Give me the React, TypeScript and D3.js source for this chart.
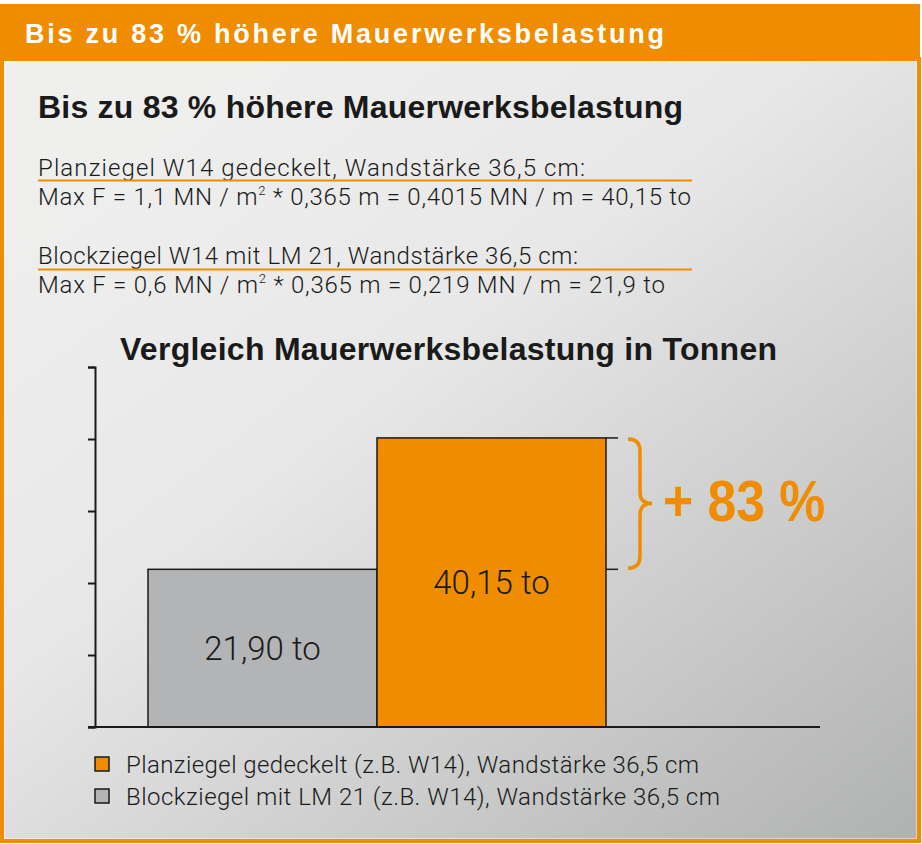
import * as d3 from 'd3';
import React, { useEffect, useRef } from 'react';

// bar data (left to right)
const categories = ['Blockziegel mit LM 21 (z.B. W14), Wandstärke 36,5 cm', 'Planziegel gedeckelt (z.B. W14), Wandstärke 36,5 cm'];
const values = [21.9, 40.15];
const valueLabels = ['21,90 to', '40,15 to'];
const barColors = ['#b3b4b6', '#f08c00'];
const legendOrder = [1, 0];
const yTicks = [0, 10, 20, 30, 40, 50];
const increaseLabel = '+ 83 %';

const headerTitle = 'Bis zu 83 % höhere Mauerwerksbelastung';
const mainTitle = 'Bis zu 83 % höhere Mauerwerksbelastung';
const chartTitle = 'Vergleich Mauerwerksbelastung in Tonnen';
const formulaHeads = ['Planziegel W14 gedeckelt, Wandstärke 36,5 cm:', 'Blockziegel W14 mit LM 21, Wandstärke 36,5 cm:'];
const formulaPre = ['Max F = 1,1 MN / m', 'Max F = 0,6 MN / m'];
const formulaPost = [' * 0,365 m = 0,4015 MN / m = 40,15 to', ' * 0,365 m = 0,219 MN / m = 21,9 to'];

const ORANGE = '#f08c00';
const INK = '#1a1a1a';
const FONT = '"Liberation Sans", Arial, sans-serif';
const LIGHT = 'Roboto, "Liberation Sans", sans-serif';

export default function App(): React.JSX.Element {
	const axisRef = useRef<SVGGElement | null>(null);

	const xScale = d3.scaleBand<number>()
		.domain(values.map((_, i) => i))
		.range([148, 606])
		.padding(0);

	const yScale = d3.scaleLinear()
		.domain([0, 50])
		.range([727, 367]);

	useEffect(() => {
		if (axisRef.current !== null) {
			const g = d3.select(axisRef.current);
			g.selectAll('*').remove();
			g.call(d3.axisLeft(yScale).tickValues(yTicks).tickSize(7).tickFormat(() => ''));
			g.selectAll('path, line').attr('stroke', INK).attr('stroke-width', 2);
		}
	}, []);

	const headBaselines = [176, 264];
	const formulaBaselines = [205, 293];
	const underlineY = [180.5, 269.5];
	const headWidths = [547, 540];
	const formulaWidths = [653, 627];
	const legendWidths = [573, 594];

	const yHigh = yScale(values[1]);
	const yLow = yScale(values[0]);
	const yMid = (yHigh + yLow) / 2;
	const braceX = 628;

	return (
		<svg width={922} height={844} style={{ position: 'absolute', left: 0, top: 0 }} fontFamily={FONT}>
			<defs>
				<linearGradient id="bg" x1="0.15" y1="0.05" x2="1" y2="1">
					<stop offset="0" stopColor="#efefee" />
					<stop offset="0.35" stopColor="#e7e8e7" />
					<stop offset="1" stopColor="#b0b2b1" />
				</linearGradient>
			</defs>
			<rect x={0} y={0} width={922} height={844} fill="#ffffff" />
			<rect x={2} y={59} width={917} height={782} fill="url(#bg)" stroke={ORANGE} strokeWidth={4} />
			<rect x={4.5} y={61} width={912} height={777.5} fill="none" stroke="#ffffff" strokeOpacity={0.45} strokeWidth={1} />
			<rect x={0} y={4} width={920} height={57} fill={ORANGE} />
			<text x={25} y={43} fill="#ffffff" fontSize={27} fontWeight="bold" textLength={639} lengthAdjust="spacing">{headerTitle}</text>

			<text x={38} y={118} fill={INK} fontSize={32} fontWeight="bold" textLength={645} lengthAdjust="spacing">{mainTitle}</text>

			{formulaHeads.map((head, i) => (
				<g key={head} fontFamily={LIGHT} fontWeight={300}>
					<text x={38} y={headBaselines[i]} fill={INK} fontSize={24} textLength={headWidths[i]} lengthAdjust="spacing">{head}</text>
					<line x1={38} x2={692} y1={underlineY[i]} y2={underlineY[i]} stroke={ORANGE} strokeWidth={2} />
					<text x={38} y={formulaBaselines[i]} fill={INK} fontSize={24} textLength={formulaWidths[i]} lengthAdjust="spacing">
						{formulaPre[i]}
						<tspan dy={-10} fontSize={13}>2</tspan>
						<tspan dy={10}>{formulaPost[i]}</tspan>
					</text>
				</g>
			))}

			<text x={120} y={360} fill={INK} fontSize={32} fontWeight="bold" textLength={657} lengthAdjust="spacing">{chartTitle}</text>

			{values.map((v, i) => (
				<rect key={`bar-${i}`}
					x={xScale(i) ?? 0}
					y={yScale(v)}
					width={xScale.bandwidth()}
					height={yScale(0) - yScale(v)}
					fill={barColors[i]}
					stroke={INK}
					strokeWidth={1.5} />
			))}
			{values.map((v, i) => (
				<text key={`lbl-${i}`}
					x={(xScale(i) ?? 0) + xScale.bandwidth() / 2}
					y={(yScale(v) + yScale(0)) / 2 + 12}
					textAnchor="middle"
					fill={INK}
					fontFamily={LIGHT}
					fontWeight={300}
					fontSize={33}>{valueLabels[i]}</text>
			))}

			<g ref={axisRef} transform="translate(95,0)" />
			<line x1={88} x2={820} y1={yScale(0)} y2={yScale(0)} stroke={INK} strokeWidth={2} />

			<line x1={606} x2={618} y1={yHigh} y2={yHigh} stroke={INK} strokeWidth={1.5} />
			<line x1={606} x2={618} y1={yLow} y2={yLow} stroke={INK} strokeWidth={1.5} />
			<path
				d={`M${braceX},${yHigh + 1} Q${braceX + 12},${yHigh + 1} ${braceX + 12},${yHigh + 13} L${braceX + 12},${yMid - 11} Q${braceX + 12},${yMid} ${braceX + 24},${yMid} Q${braceX + 12},${yMid} ${braceX + 12},${yMid + 11} L${braceX + 12},${yLow - 13} Q${braceX + 12},${yLow - 1} ${braceX},${yLow - 1}`}
				fill="none" stroke={ORANGE} strokeWidth={3.5} />
			<text x={663} y={yMid + 17} fill={ORANGE} fontSize={57} fontWeight="bold" textLength={162} lengthAdjust="spacingAndGlyphs">{increaseLabel}</text>

			{legendOrder.map((idx, j) => (
				<g key={`leg-${idx}`}>
					<rect x={95} y={757 + j * 32} width={14} height={14} fill={barColors[idx]} stroke={INK} strokeWidth={1.5} />
					<text x={126} y={773 + j * 32} fill={INK} fontFamily={LIGHT} fontWeight={300} fontSize={24} textLength={legendWidths[j]} lengthAdjust="spacing">{categories[idx]}</text>
				</g>
			))}
		</svg>
	);
}
